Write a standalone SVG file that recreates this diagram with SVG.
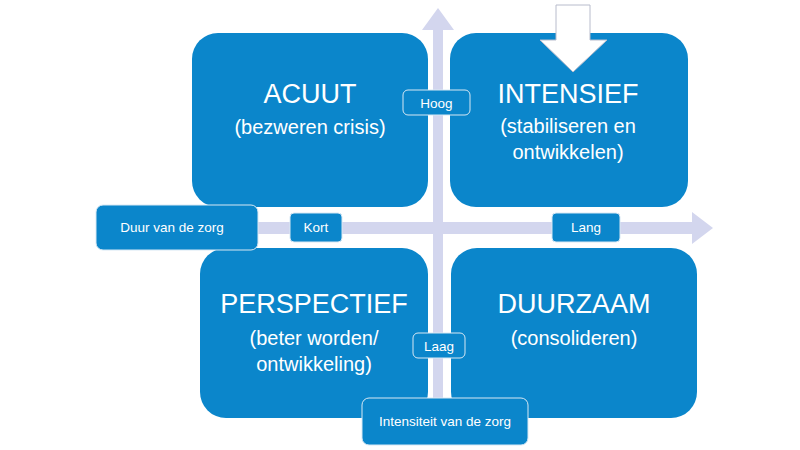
<svg xmlns="http://www.w3.org/2000/svg" width="800" height="450" viewBox="0 0 800 450">
<style>
.q{fill:#0B86CB}
.lbl{fill:#0B86CB;stroke:#D8E8F4;stroke-width:1}
.t{font-family:"Liberation Sans",Arial,sans-serif;fill:#fff;text-anchor:middle}
.big{font-size:27px}
.sub{font-size:20px}
.sm{font-size:13.5px}
.ax{fill:#D3D6EE}
</style>
<rect width="800" height="450" fill="#fff"/>
<g id="connectors">
<path class="ax" d="M433,400 V30 H422 L438,8 L454,30 H443 V400 Z"/>
<path class="ax" d="M250,222 H692 V212 L713,228 L692,244 V234 H250 Z"/>
</g>
<g id="acuut">
<rect class="q" x="192" y="33" width="236" height="174" rx="26"/>
<text class="t big" x="310" y="103">ACUUT</text>
<text class="t sub" x="310" y="134">(bezweren crisis)</text>
</g>
<g id="intensief">
<rect class="q" x="450" y="33" width="238" height="174" rx="26"/>
<text class="t big" x="568" y="103">INTENSIEF</text>
<text class="t sub" x="568" y="133">(stabiliseren en</text>
<text class="t sub" x="568" y="159">ontwikkelen)</text>
</g>
<g id="perspectief">
<rect class="q" x="200" y="248" width="228" height="170" rx="26"/>
<text class="t big" x="314" y="313">PERSPECTIEF</text>
<text class="t sub" x="314" y="345">(beter worden/</text>
<text class="t sub" x="314" y="371">ontwikkeling)</text>
</g>
<g id="duurzaam">
<rect class="q" x="451" y="248" width="246" height="170" rx="26"/>
<text class="t big" x="574" y="313">DUURZAAM</text>
<text class="t sub" x="574" y="345">(consolideren)</text>
</g>
<g id="down-arrow">
<path d="M556,5 H590 V40 H607 L573,72 L540,40 H556 Z" fill="#fff" stroke="#B8BCCC" stroke-width="1"/>
</g>
<g id="hoog">
<rect class="lbl" x="403" y="90" width="67" height="25" rx="5"/>
<text class="t sm" x="436.5" y="107.5">Hoog</text>
</g>
<g id="laag">
<rect class="lbl" x="413" y="333" width="52" height="25" rx="5"/>
<text class="t sm" x="439" y="350.5">Laag</text>
</g>
<g id="duur">
<rect class="lbl" x="96" y="205" width="162" height="45" rx="7"/>
<text class="t sm" x="172" y="232">Duur van de zorg</text>
</g>
<g id="kort">
<rect class="lbl" x="290" y="213" width="52" height="29" rx="4"/>
<text class="t sm" x="316" y="232">Kort</text>
</g>
<g id="lang">
<rect class="lbl" x="552" y="213" width="68" height="29" rx="4"/>
<text class="t sm" x="586" y="232">Lang</text>
</g>
<g id="intensiteit">
<rect class="lbl" x="362" y="398" width="166" height="47" rx="7"/>
<text class="t sm" x="445" y="426">Intensiteit van de zorg</text>
</g>
</svg>
